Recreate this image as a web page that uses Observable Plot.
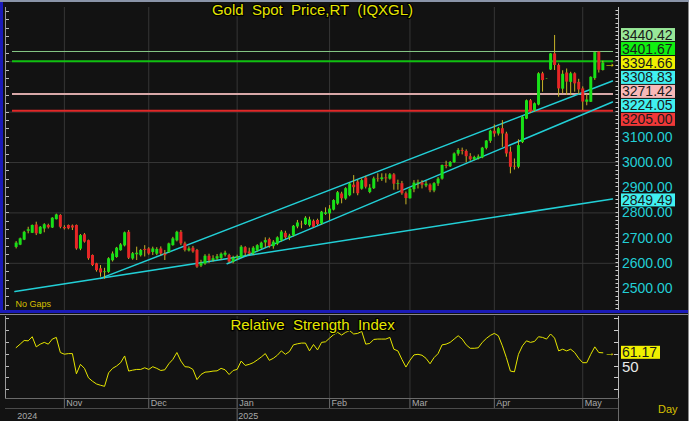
<!DOCTYPE html>
<html><head><meta charset="utf-8">
<script src="https://cdn.jsdelivr.net/npm/d3@7"></script>
<script src="https://cdn.jsdelivr.net/npm/@observablehq/plot@0.6"></script>
<style>
html,body{margin:0;padding:0;background:#121212;}
#chart{position:relative;width:689px;height:421px;background:#121212;overflow:hidden;font-family:"Liberation Sans",Arial,sans-serif;}
#chart svg{position:absolute;left:0;}
.bar{position:absolute;}
</style></head><body><div id="chart"></div>
<script>
// ---------------- data ----------------
const open = [2664,2673,2693,2728,2720,2752,2717,2737,2750,2741,2774,2790,2742,2750,2748,2750,2657,2713,2690,2631,
2598,2578,2564,2565,2611,2624,2651,2670,2723,2618,2635,2631,2655,2657,2644,2637,2657,2636,2644,2671,
2690,2723,2677,2650,2660,2651,2590,2598,2628,2612,2618,2620,2633,2631,2606,2620,2624,2662,2645,2638,
2650,2660,2682,2694,2667,2677,2690,2719,2703,2710,2745,2755,2754,2750,2767,2770,2757,2795,2797,2812,
2836,2875,2856,2869,2910,2922,2895,2938,2882,2897,2935,2933,2939,2935,2951,2914,2916,2876,2857,2893,
2916,2919,2908,2910,2888,2916,2935,2988,2984,3000,3034,3048,3044,3023,3011,3016,3019,3057,3085,3124,
3114,3134,3113,3041,2985,2982,3080,3173,3245,3206,3229,3352,3331,3368,3431,3385,3292,3355,3319,3352,
3318,3292,3240,3240,3334,3438,3366];
const high = [2686,2700,2727,2743,2752,2763,2746,2757,2755,2781,2795,2793,2749,2752,2752,2752,2714,2718,2692,2633,
2600,2591,2580,2622,2645,2663,2678,2724,2730,2643,2664,2655,2670,2662,2664,2662,2665,2651,2680,2703,
2727,2730,2684,2665,2667,2655,2612,2634,2636,2630,2635,2641,2648,2636,2628,2632,2670,2666,2660,2666,
2674,2684,2701,2700,2690,2705,2730,2727,2715,2750,2770,2767,2785,2783,2772,2775,2806,2820,2829,2852,
2885,2882,2900,2919,2948,2930,2935,2945,2912,2942,2955,2955,2955,2956,2956,2930,2925,2883,2898,2928,
2930,2928,2925,2915,2920,2940,2990,3005,3004,3038,3055,3057,3050,3035,3025,3030,3060,3087,3128,3149,
3139,3166,3120,3061,3014,3090,3183,3248,3250,3236,3356,3358,3332,3432,3504,3391,3364,3371,3358,3356,
3330,3300,3270,3340,3438,3440.42,3401.67];
const low = [2657,2670,2690,2717,2718,2710,2714,2721,2736,2738,2772,2737,2732,2733,2730,2652,2650,2680,2612,2587,
2565,2545,2537,2560,2605,2620,2648,2665,2615,2612,2611,2625,2625,2632,2631,2630,2630,2611,2640,2668,
2685,2670,2645,2645,2640,2580,2583,2592,2600,2605,2612,2612,2625,2600,2598,2612,2620,2628,2630,2632,
2645,2655,2661,2660,2656,2670,2685,2695,2690,2705,2737,2737,2750,2743,2740,2750,2752,2790,2770,2808,
2830,2836,2850,2864,2876,2868,2890,2895,2876,2893,2922,2925,2918,2930,2890,2890,2870,2832,2855,2880,
2895,2895,2900,2880,2880,2905,2930,2975,2980,2997,3025,3030,2999,3005,3007,3010,3015,3050,3076,3100,
3105,3060,3021,2955,2970,2975,3075,3170,3195,3200,3225,3279,3330,3365,3365,3259,3273,3266,3265,3279,
3269,3206,3225,3238,3326,3355,3363];
const close = [2680,2697,2723,2733,2750,2717,2743,2753,2741,2779,2792,2743,2737,2737,2740,2657,2710,2684,2618,2591,
2571,2562,2566,2618,2637,2660,2673,2721,2620,2638,2640,2651,2651,2637,2657,2655,2637,2630,2677,2697,
2723,2677,2651,2657,2645,2585,2600,2628,2610,2618,2626,2636,2640,2605,2620,2625,2664,2640,2637,2660,
2670,2680,2690,2667,2684,2701,2724,2701,2708,2747,2760,2753,2779,2772,2743,2754,2803,2800,2815,2849,
2880,2856,2896,2915,2900,2876,2928,2902,2898,2935,2933,2939,2935,2951,2914,2916,2876,2857,2893,2918,
2919,2910,2914,2888,2916,2934,2988,2984,3000,3034,3048,3044,3023,3011,3020,3022,3057,3085,3124,3113,
3134,3113,3034,2981,2982,3067,3180,3245,3200,3233,3352,3325,3331,3431,3385,3292,3350,3319,3352,3312,
3288,3240,3248,3338,3436,3366,3394.66];
const rsi = [65.6,68.5,71.6,71.3,74.8,66.2,68.5,70.0,68.5,72.8,74.2,61.4,60.0,60.5,60.5,43.4,51.4,48.0,40.0,37.1,
34.8,33.7,32.8,44.2,48.0,50.0,52.8,58.5,45.7,46.5,47.1,47.1,48.5,47.1,49.4,48.0,46.2,46.8,51.9,55.6,
61.4,54.2,49.4,49.1,47.1,38.5,42.8,44.8,45.1,45.7,45.9,48.0,46.8,42.8,46.2,47.1,54.2,50.5,51.4,52.8,
55.1,57.6,60.5,54.8,56.5,59.1,62.8,59.9,62.2,67.9,68.8,69.4,69.4,62.8,68.2,63.6,70.0,70.5,73.6,76.5,
78.5,76.2,78.5,79.9,77.1,77.6,79.3,68.5,69.1,72.5,72.8,72.8,72.8,74.2,64.2,62.8,55.6,49.1,54.8,59.4,
59.9,59.1,56.5,51.9,57.1,60.5,67.9,68.5,70.0,72.8,75.6,72.8,67.9,65.0,65.0,65.4,70.0,73.3,75.9,77.6,
75.6,67.1,57.1,45.7,45.1,59.9,67.1,71.3,70.0,70.8,74.8,74.2,72.8,77.1,73.6,62.8,64.2,62.8,64.2,61.4,
56.5,52.8,52.8,59.9,66.2,61.4,61.17];

// month boundaries (bar index of first trading day) and labels
const monthTicks  = [12, 33, 55, 78, 98, 119, 141];
const monthLabels = ["Nov", "Dec", "Jan", "Feb", "Mar", "Apr", "May"];
const yearTicks   = [0, 55];
const yearLabels  = ["2024", "2025"];

// price axis
const priceTicks = [2500, 2600, 2700, 2800, 2900, 3000, 3100];
const gridPrices = [2600, 2800, 3000, 3200, 3400];

// horizontal levels
const levelValues = [3440.42, 3401.67, 3271.42, 3205.00];
const levelNames  = ["hiPrev", "hiDay", "pivot", "support"];

// trend lines: start (bar, price) and value at last bar
const trendNames      = ["upper", "middle", "long"];
const trendStartBar   = [21, 52.5, -0.3];
const trendStartPrice = [2540, 2598, 2488];
const trendEndPrice   = [3308.83, 3224.05, 2849.49];

// RSI
const rsiTicks = [30, 40, 50, 60, 70, 80, 90];

// ---------------- styles ----------------
const BG = "#121212", GRID = "#363636", CYAN = "#22cfd6", WICK = "#c8b428";
const UP = "#18e018", DOWN = "#e62626", YEL = "#e6e600";
const levelStroke = {hiPrev: "#86c886", hiDay: "#10c010", pivot: "#d8a8a8", support: "#e02828"};
const levelWidth  = {hiPrev: 1, hiDay: 2, pivot: 2, support: 2};
const boxFill = {hiPrev: "#98e898", hiDay: "#10f010", last: "#f0f000", pivot: "#f8b8b8",
                 support: "#f03838", upper: "#40f0f0", middle: "#40f0f0", long: "#40f0f0"};

const W = 689, FRAME_L = 6, FRAME_R = 618;
const N = close.length, lastBar = N - 1;
const X_DOMAIN = [-2.4, 149.9];
const trendEndBar = 148.4;
const bars = d3.range(N).map(i => ({i, o: open[i], h: high[i], l: low[i], c: close[i]}));

const trendPts = [];
trendNames.forEach((name, k) => {
  const b0 = trendStartBar[k], p0 = trendStartPrice[k], p1 = trendEndPrice[k];
  const slope = (p1 - p0) / (lastBar - b0);
  trendPts.push({name, i: b0, p: p0});
  trendPts.push({name, i: trendEndBar, p: p1 + slope * (trendEndBar - lastBar)});
});

const chart = document.getElementById("chart");
const font = '"Liberation Sans", Arial, sans-serif';

function box(left, top, width, height, css) {
  const d = document.createElement("div");
  d.className = "bar";
  Object.assign(d.style, {left: left + "px", top: top + "px", width: width + "px", height: height + "px"}, css);
  chart.appendChild(d);
}
function label(g, x, y, txt, fill, size) {
  return g.append("text").attr("x", x).attr("y", y).attr("dy", "0.36em").attr("text-anchor", "start")
    .attr("fill", fill).attr("font-size", size).attr("font-family", font).text(txt);
}

// ---------------- main price panel ----------------
const main = Plot.plot({
  width: W, height: 311,
  marginLeft: FRAME_L, marginRight: W - FRAME_R, marginTop: 7, marginBottom: 1,
  style: {background: "transparent", fontFamily: font, overflow: "visible"},
  x: {domain: X_DOMAIN, axis: null},
  y: {domain: [2412.7, 3615], axis: null},
  marks: [
    Plot.ruleX(monthTicks, {stroke: GRID}),
    Plot.ruleY(gridPrices, {stroke: GRID}),
    Plot.ruleY(levelValues, {y: d => d, stroke: (d, k) => levelStroke[levelNames[k]],
      strokeWidth: (d, k) => levelWidth[levelNames[k]], insetLeft: 6, insetRight: 5}),
    Plot.line(trendPts, {x: "i", y: "p", z: "name", stroke: CYAN, strokeWidth: 1.5}),
    Plot.ruleX(bars, {x: "i", y1: "l", y2: "h", stroke: WICK, strokeWidth: 1}),
    Plot.ruleX(bars, {x: "i", y1: d => d.c >= d.o ? d.o - 1 : d.o, y2: "c",
      stroke: d => d.c >= d.o ? UP : DOWN, strokeWidth: 3}),
    Plot.text(["Gold  Spot  Price,RT  (IQXGL)"], {frameAnchor: "top", lineAnchor: "top", dy: -3,
      fill: YEL, stroke: "#000", strokeWidth: 2.5, fontSize: 15}),
    Plot.text(["No Gaps"], {frameAnchor: "bottom-left", textAnchor: "start", dx: 9, dy: -4,
      fill: "#d8c000", fontSize: 9}),
    Plot.text([lastBar], {x: d => d + 1.8, y: close[lastBar], text: () => "\u2192", fill: YEL,
      fontSize: 12, fontWeight: "bold"})
  ]
});
main.style.top = "0px";
chart.appendChild(main);

(function () {
  const ys = main.scale("y");
  const g = d3.select(main).append("g");
  const d1 = ys.domain[1];
  g.append("line").attr("x1", FRAME_R + 0.5).attr("x2", FRAME_R + 0.5).attr("y1", 7).attr("y2", 310)
    .attr("stroke", "#bbb");
  g.append("line").attr("x1", FRAME_L - 0.5).attr("x2", FRAME_L - 0.5).attr("y1", 7).attr("y2", 310)
    .attr("stroke", "#999");
  for (let v = 2420; v <= d1; v += 100 / 6) {
    const y = Math.round(ys.apply(v)) + 0.5;
    const major = Math.abs((v / 100) - Math.round(v / 100)) < 0.01;
    g.append("line").attr("x1", FRAME_R - (major ? 5 : 2.5)).attr("x2", FRAME_R).attr("y1", y).attr("y2", y)
      .attr("stroke", "#ccc");
  }
  for (let v = 2433.3; v <= d1; v += 100 / 3) {
    const y = Math.round(ys.apply(v)) + 0.5;
    g.append("line").attr("x1", FRAME_L).attr("x2", FRAME_L + 3).attr("y1", y).attr("y2", y).attr("stroke", "#bbb");
  }
  priceTicks.forEach(v => label(g, 622, ys.apply(v), v.toFixed(2), CYAN, 14));
  const items = [
    ...levelValues.map((v, k) => ({v, key: levelNames[k]})),
    {v: close[lastBar], key: "last", fixed: true},
    ...trendNames.map((n, k) => ({v: trendEndPrice[k], key: n}))
  ].map(d => ({...d, y: ys.apply(d.v)})).sort((a, b) => a.y - b.y);
  const gap = 14;
  const pos = items.map(d => d.y);
  for (let it = 0; it < 500; it++) {
    let moved = false;
    for (let k = 0; k < pos.length - 1; k++) {
      const dd = pos[k + 1] - pos[k];
      if (dd < gap - 0.01) {
        const push = gap - dd;
        if (items[k].fixed) pos[k + 1] += push;
        else if (items[k + 1].fixed) pos[k] -= push;
        else { pos[k] -= push / 2; pos[k + 1] += push / 2; }
        moved = true;
      }
    }
    if (!moved) break;
  }
  items.forEach((d, k) => {
    const y = pos[k];
    g.append("rect").attr("x", 621).attr("y", y - 6.5).attr("width", 54).attr("height", 13)
      .attr("fill", boxFill[d.key]);
    label(g, 622, y, d.v.toFixed(2), "#1a1a1a", 14);
  });
})();

// ---------------- RSI panel ----------------
const rsiPlot = Plot.plot({
  width: W, height: 82,
  marginLeft: FRAME_L, marginRight: W - FRAME_R, marginTop: 0, marginBottom: 0,
  style: {background: "transparent", fontFamily: font, overflow: "visible"},
  x: {domain: X_DOMAIN, axis: null},
  y: {domain: [22.5, 91.9], axis: null},
  marks: [
    Plot.ruleX(monthTicks, {stroke: GRID}),
    Plot.line(rsi, {x: (d, i) => i, y: d => d, stroke: YEL, strokeWidth: 1}),
    Plot.text(["Relative  Strength  Index"], {frameAnchor: "top", lineAnchor: "top", dy: 3,
      fill: YEL, stroke: "#000", strokeWidth: 2.5, fontSize: 15}),
    Plot.text([lastBar], {x: d => d + 1.8, y: rsi[lastBar], text: () => "\u2192", fill: YEL,
      fontSize: 11, fontWeight: "bold"})
  ]
});
rsiPlot.style.top = "316px";
chart.appendChild(rsiPlot);
(function () {
  const ys = rsiPlot.scale("y");
  const g = d3.select(rsiPlot).append("g");
  g.append("line").attr("x1", FRAME_R + 0.5).attr("x2", FRAME_R + 0.5).attr("y1", 0).attr("y2", 82).attr("stroke", "#bbb");
  g.append("line").attr("x1", FRAME_L - 0.5).attr("x2", FRAME_L - 0.5).attr("y1", 0).attr("y2", 82).attr("stroke", "#999");
  rsiTicks.forEach(v => {
    const y = Math.round(ys.apply(v)) + 0.5;
    g.append("line").attr("x1", FRAME_R - 4).attr("x2", FRAME_R).attr("y1", y).attr("y2", y).attr("stroke", "#ccc");
    g.append("line").attr("x1", FRAME_L).attr("x2", FRAME_L + 3).attr("y1", y).attr("y2", y).attr("stroke", "#bbb");
  });
  label(g, 622, ys.apply(50) + 1, "50", "#e8e8e8", 15);
  const yl = ys.apply(rsi[lastBar]);
  g.append("rect").attr("x", 621).attr("y", yl - 6.5).attr("width", 39).attr("height", 13).attr("fill", "#f0f000");
  label(g, 622, yl, rsi[lastBar].toFixed(2), "#1a1a1a", 14);
})();

// ---------------- date axis ----------------
const dateAxis = Plot.plot({
  width: W, height: 23,
  marginLeft: FRAME_L, marginRight: W - FRAME_R, marginTop: 0, marginBottom: 0,
  style: {background: "transparent", fontFamily: font, overflow: "visible"},
  x: {domain: X_DOMAIN, axis: null},
  marks: [
    Plot.ruleX(monthTicks, {stroke: "#6a6a6a", insetBottom: 13}),
    Plot.ruleX([yearTicks[1]], {stroke: "#6a6a6a", insetTop: 10}),
    Plot.text(monthTicks, {x: d => d, text: (d, k) => monthLabels[k], frameAnchor: "top", lineAnchor: "top",
      textAnchor: "start", dx: 2, dy: 1, fill: "#a8a8a8", fontSize: 9}),
    Plot.text(yearTicks, {x: d => d, text: (d, k) => yearLabels[k], frameAnchor: "bottom", lineAnchor: "bottom",
      textAnchor: "start", dx: 1, dy: -3, fill: "#a8a8a8", fontSize: 9})
  ]
});
dateAxis.style.top = "398px";
chart.appendChild(dateAxis);

// frame lines
box(0, 0, 689, 2, {background: "#8a94a8"});
box(0, 2, 3, 310, {background: "#1a1ab8"});
box(0, 310, 689, 3, {background: "#1a1ab8"});
box(0, 314, 689, 1, {background: "#8a8a8a"});
box(FRAME_L - 1, 398, FRAME_R - FRAME_L + 2, 1, {background: "#6a6a6a"});
box(FRAME_L - 1, 408, FRAME_R - FRAME_L + 2, 1, {background: "#4a4a4a"});
box(FRAME_R, 398, 1, 23, {background: "#6a6a6a"});
box(688, 2, 1, 419, {background: "#8a8a8a"});
const day = document.createElement("div");
day.textContent = "Day";
Object.assign(day.style, {position: "absolute", left: "658px", top: "403px", color: "#d8c000", fontSize: "11px"});
chart.appendChild(day);
</script></body></html>
